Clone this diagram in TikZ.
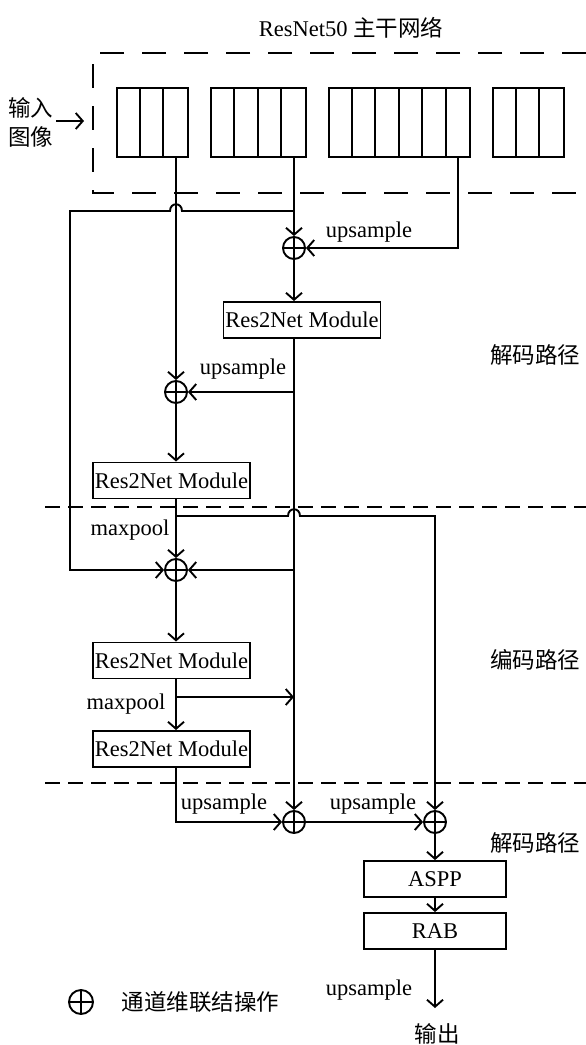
\documentclass[tikz,border=0pt]{standalone}
\usepackage{fontspec}
\setmainfont{Liberation Serif}
\newfontfamily\cjk{Noto Sans CJK SC}
\usetikzlibrary{arrows.meta,calc}
\begin{document}
\begin{tikzpicture}[x=1pt,y=-1pt,
  line width=1.9pt,
  font=\fontsize{22.5}{26}\selectfont,
  >={Straight Barb[length=7pt,width=16pt]},
  mod/.style={draw, rectangle, minimum width=157pt, minimum height=36pt, inner sep=0pt},
  endbox/.style={draw, rectangle, minimum width=142pt, minimum height=36pt, inner sep=0pt},
  cat/.style={draw, circle, minimum size=22pt, inner sep=0pt,
    path picture={\draw (path picture bounding box.north) -- (path picture bounding box.south)
                        (path picture bounding box.west) -- (path picture bounding box.east);}},
  blk/.style={draw, rectangle, minimum height=69pt, inner sep=0pt},
  lab/.style={inner sep=1pt},
  sep/.style={dash pattern=on 15pt off 8pt},
]
\useasboundingbox (0,0) rectangle (586,1045);

% title and backbone box
\node[lab] (title) at (351,28) {ResNet50 {\cjk 主干网络}};
\draw[dash pattern=on 24pt off 18pt] (586,53) -- (93,53) -- (93,193) -- (586,193);

% backbone blocks
\node[blk, minimum width=71pt]  (b1) at (152.5,122.5) {};
\node[blk, minimum width=95pt]  (b2) at (258.5,122.5) {};
\node[blk, minimum width=141pt] (b3) at (399.5,122.5) {};
\node[blk, minimum width=71pt]  (b4) at (528.5,122.5) {};
\foreach \i in {1,2} \draw ($(b1.north west)+(\i*23.67,0)$) -- ($(b1.south west)+(\i*23.67,0)$);
\foreach \i in {1,2,3} \draw ($(b2.north west)+(\i*23.75,0)$) -- ($(b2.south west)+(\i*23.75,0)$);
\foreach \i in {1,...,5} \draw ($(b3.north west)+(\i*23.5,0)$) -- ($(b3.south west)+(\i*23.5,0)$);
\foreach \i in {1,2} \draw ($(b4.north west)+(\i*23.67,0)$) -- ($(b4.south west)+(\i*23.67,0)$);

% input
\node[lab, align=center, font=\fontsize{22.5}{29}\selectfont\cjk] (in) at (31,122) {输入\\图像};
\coordinate (inend) at (84,121);
\draw[->] (56,121) -- (inend);

% concat nodes
\node[cat] (p1) at (294,248) {};
\node[cat] (p2) at (176,392) {};
\node[cat] (p4) at (176,570) {};
\node[cat] (p5) at (294,822) {};
\node[cat] (p6) at (435,822) {};

% modules
\node[mod] (r1) at (302,320) {Res2Net Module};
\node[mod] (r2) at (171.5,480.5) {Res2Net Module};
\node[mod] (r3) at (171.5,660.5) {Res2Net Module};
\node[mod] (r4) at (171.5,749) {Res2Net Module};
\node[endbox] (aspp) at (435,879) {ASPP};
\node[endbox] (rab) at (435,931) {RAB};
\coordinate (out) at (435,1008);

% outputs of backbone
\coordinate (o1) at (p2 |- b1.south);
\coordinate (o2) at (p1 |- b2.south);
\coordinate (o3) at (458,157);
\coordinate (j1) at (294,211);

\draw[->] (o1) -- (p2.north);
\draw[->] (o2) -- (p1.north);
\draw[->] (j1) -- (182,211) .. controls (182,202) and (170,202) .. (170,211) -- (70,211) -- (70,570) -- (p4.west);
\draw[->] (o3) -- (o3 |- p1) -- (p1.east);
\node[lab] at (369,232) {upsample};

% decoder 1
\draw[->] (p1.south) -- (p1.south |- r1.north);
\coordinate (r1o) at (p1 |- r1.south);
\draw[->] (r1o) -- (p5.north);
\draw[->] (r1o |- p2) -- (p2.east);
\node[lab] at (243,369) {upsample};
\draw[->] (r1o |- p4) -- (p4.east);

\draw[->] (p2.south) -- (p2 |- r2.north);
\coordinate (r2o) at (p2 |- r2.south);
\draw[->] (r2o) -- (p4.north);
\node[lab] at (130,530) {maxpool};
\coordinate (m1) at (176,516);
\draw[->] (m1) -- (288,516) .. controls (288,507) and (300,507) .. (300,516) -- (p6 |- m1) -- (p6.north);

% encoder
\draw[->] (p4.south) -- (p4 |- r3.north);
\coordinate (r3o) at (p4 |- r3.south);
\draw[->] (r3o) -- (p4 |- r4.north);
\coordinate (m2) at (176,697);
\coordinate (m2e) at (294,697);
\draw[->] (m2) -- (m2e);
\node[lab] at (126,704) {maxpool};

% decoder 2
\coordinate (r4o) at (p4 |- r4.south);
\draw[->] (r4o) -- (r4o |- p5) -- (p5.west);
\node[lab] at (224,804) {upsample};
\draw[->] (p5.east) -- (p6.west);
\node[lab] at (373,804) {upsample};
\draw[->] (p6.south) -- (aspp.north);
\draw[->] (aspp.south) -- (rab.north);
\draw[->] (rab.south) -- (out);
\node[lab] at (369,990) {upsample};
\node[lab, font=\fontsize{22.5}{26}\selectfont\cjk] (outl) at (437,1034) {输出};

% separators
\draw[sep] (45,507) -- (586,507);
\draw[sep] (45,783) -- (586,783);

% side labels
\node[lab, font=\fontsize{22.5}{26}\selectfont\cjk] at (535,355) {解码路径};
\node[lab, font=\fontsize{22.5}{26}\selectfont\cjk] at (535,660) {编码路径};
\node[lab, font=\fontsize{22.5}{26}\selectfont\cjk] at (535,843) {解码路径};

% legend
\node[cat, minimum size=24pt] (lg) at (81,1002) {};
\node[lab, anchor=west, font=\fontsize{22.5}{26}\selectfont\cjk] (lgt) at (120,1002) {通道维联结操作};
\end{tikzpicture}
\end{document}
